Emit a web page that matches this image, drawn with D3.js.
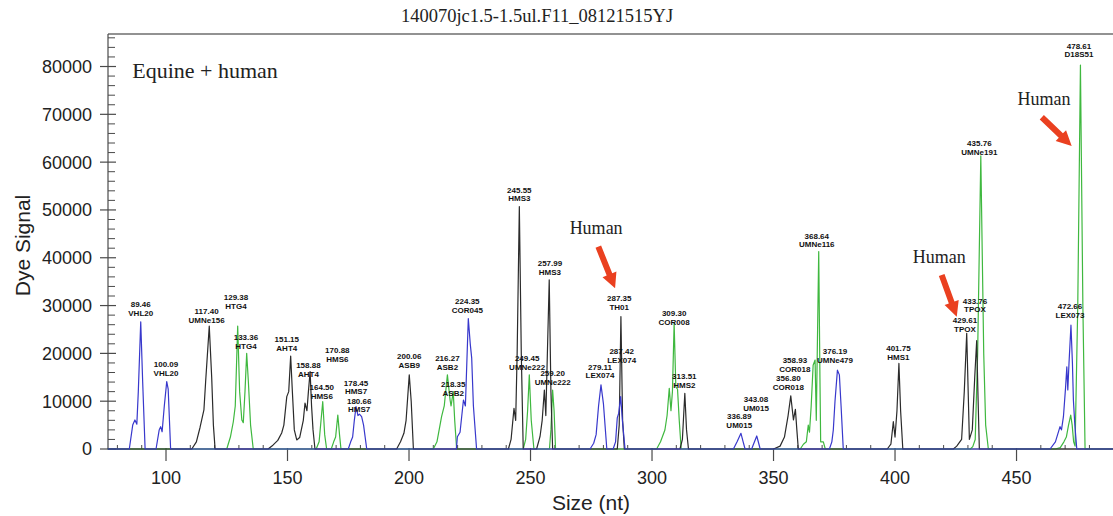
<!DOCTYPE html>
<html>
<head>
<meta charset="utf-8">
<script src="https://cdn.jsdelivr.net/npm/d3@7"></script>
<style>
  body { margin: 0; background: #fff; }
  svg { display: block; }
</style>
</head>
<body>
<svg id="chart"></svg>
<script>
// ---- data ----
const chartTitle = '140070jc1.5-1.5ul.F11_08121515YJ';
const sampleNote = 'Equine + human';
const xLabel = 'Size (nt)';
const yLabel = 'Dye Signal';

const xTicks = [100, 150, 200, 250, 300, 350, 400, 450];
const yTicks = [0, 10000, 20000, 30000, 40000, 50000, 60000, 70000, 80000];

// [size (nt), dye signal]
const blueTrace = [
  [76, 0], [84.9, 0], [86.3, 5000], [87.2, 6070], [88, 5200], [88.6, 12000], [89.6, 26600], [90.4, 14000], [91.4, 0],
  [95.9, 0], [97.2, 4000], [97.8, 4670], [98.4, 3600], [99.3, 9000], [100.3, 14100], [100.9, 12500], [101.9, 0],
  [175, 0], [176, 1500], [176.8, 2500], [177.5, 6000], [178.2, 8850], [179, 7000], [179.6, 7300], [180.5, 6760], [181.3, 5000], [182.6, 0],
  [219.5, 0], [219.9, 2570], [221, 3500], [222.4, 10250], [223.2, 9000], [224.4, 27300], [225.2, 22000], [225.8, 19000], [226.5, 9000], [227.8, 0],
  [274.5, 0], [276, 1200], [277, 3000], [278, 9000], [279, 13400], [280, 9500], [281.4, 0],
  [284, 0], [285, 1500], [285.7, 6500], [286.3, 7500], [287.1, 10950], [287.8, 6000], [288.9, 0],
  [333.5, 0], [335, 1500], [336.6, 3280], [337.5, 1500], [338.3, 0],
  [341, 0], [342, 1300], [343.1, 2720], [343.9, 1200], [344.5, 0],
  [373, 0], [374, 1500], [374.6, 3970], [375.3, 10000], [376.3, 16500], [377.1, 15500], [377.8, 9000], [378.7, 0],
  [463.8, 0], [466, 1500], [467.9, 4670], [468.5, 4000], [469.3, 6760], [470.2, 13000], [470.7, 17200], [471.1, 12340],
  [471.6, 18000], [472.4, 25900], [473, 18000], [473.4, 10250], [474, 5000], [474.8, 0], [490, 0]
];

const blackTrace = [
  [76, 0], [110.6, 0], [112.5, 1500], [114, 4500], [115.6, 8160], [116.3, 14000], [117.8, 25700], [118.8, 15000], [119.5, 5000], [120.2, 0],
  [142, 0], [144, 800], [146, 1800], [147.6, 3350], [148.5, 5000], [149.7, 10950], [150.5, 12000], [151.3, 19450], [152, 12000],
  [152.8, 4000], [153.8, 1900], [155, 2400], [156.5, 6000], [157.2, 9600], [158, 8000], [158.6, 12000], [159.3, 16200], [159.9, 9000], [160.5, 4000], [161.3, 0],
  [194.9, 0], [196.5, 1500], [197.9, 3280], [198.8, 6000], [200.1, 15500], [200.9, 10000], [201.8, 0],
  [240.9, 0], [242, 2000], [243.2, 8500], [243.9, 6000], [244.5, 20000], [245.4, 50700], [246.2, 20000], [247, 0],
  [252.5, 0], [253.9, 2570], [254.8, 6000], [255.7, 12340], [256.3, 7000], [257.7, 35400], [258.4, 12000], [259.1, 0],
  [285.7, 0], [286.5, 5000], [287.2, 27700], [287.9, 6000], [288.6, 0],
  [311.5, 0], [312.5, 2000], [313.5, 11650], [314.2, 4000], [315, 0],
  [350, 0], [352.7, 600], [354.5, 2500], [356, 7000], [357.1, 11100], [358.2, 6070], [359, 8300], [359.6, 4000], [360.2, 0],
  [396.8, 0], [398.3, 1000], [399.3, 5710], [400, 2500], [400.8, 8000], [401.6, 17900], [402.3, 8000], [403.2, 0],
  [424, 0], [425.4, 600], [427.4, 2000], [428.5, 12000], [429.5, 24200], [430.3, 8000], [430.6, 2000], [431.8, 4000],
  [432.8, 15000], [433.6, 22660], [434.2, 10000], [434.7, 0], [490, 0]
];

const greenTrace = [
  [76, 0], [125, 0], [126.5, 2500], [127.7, 5700], [128.5, 9000], [129.5, 25700], [130.3, 12000], [131.2, 6070], [131.8, 5500],
  [132.5, 12000], [133.2, 20000], [133.9, 14000], [134.8, 5000], [135.9, 0],
  [161.8, 0], [163, 1500], [163.8, 6000], [164.5, 9900], [165.3, 3000], [166.1, 0],
  [168, 0], [169, 1500], [169.8, 2500], [170.7, 7100], [171.4, 3000], [172, 0],
  [210, 0], [211.5, 1500], [213.4, 6760], [214.5, 9000], [215.8, 15500], [216.9, 10250], [217.3, 9000], [218.2, 12000], [218.8, 6000], [219.6, 0],
  [247, 0], [248, 2000], [248.8, 8000], [249.5, 15500], [250.3, 6000], [251.4, 0],
  [257.8, 0], [258.4, 4000], [259.1, 12340], [259.7, 8000], [260.3, 0],
  [301.9, 0], [303.5, 1500], [305.3, 3970], [306.2, 7000], [307.1, 12700], [307.8, 8000], [308.4, 12000], [309.1, 26300],
  [309.8, 13000], [310.5, 12500], [311.2, 6000], [312, 0],
  [361, 0], [362.3, 1000], [363.5, 1500], [364.3, 5020], [364.8, 3500], [365.5, 9000], [366.3, 17500], [367.1, 18600],
  [367.6, 6000], [368.6, 41300], [369.1, 15000], [369.4, 1500], [370.5, 1500], [371.3, 0],
  [431, 0], [432, 500], [433, 2000], [434, 20000], [435.3, 61300], [436.5, 20000], [437.3, 5000], [438.4, 0],
  [466, 0], [468, 300], [469.5, 1500], [470.5, 2500], [471.4, 5000], [472.3, 7100], [472.9, 5000], [473.5, 1500], [474.1, 600],
  [475.2, 30000], [476.3, 80300], [477.3, 30000], [478.2, 0], [490, 0]
];

// peak call labels: size, marker name, and where the label sits [nt, signal]
const peakSizes = ['89.46', '100.09', '117.40', '129.38', '133.36', '151.15', '158.88', '170.88', '164.50', '178.45', '180.66',
  '200.06', '216.27', '218.35', '224.35', '245.55', '257.99', '249.45', '259.20', '279.11', '287.42', '287.35', '309.30',
  '313.51', '336.89', '343.08', '358.93', '356.80', '368.64', '376.19', '401.75', '429.61', '433.76', '435.76', '472.66', '478.61'];
const peakNames = ['VHL20', 'VHL20', 'UMNe156', 'HTG4', 'HTG4', 'AHT4', 'AHT4', 'HMS6', 'HMS6', 'HMS7', 'HMS7',
  'ASB9', 'ASB2', 'ASB2', 'COR045', 'HMS3', 'HMS3', 'UMNe222', 'UMNe222', 'LEX074', 'LEX074', 'TH01', 'COR008',
  'HMS2', 'UM015', 'UM015', 'COR018', 'COR018', 'UMNe116', 'UMNe479', 'HMS1', 'TPOX', 'TPOX', 'UMNe191', 'LEX073', 'D18S51'];
const peakLabelAt = [[89.6, 27900], [100.0, 15330], [116.7, 26360], [128.8, 29350], [132.9, 20920], [149.7, 20500], [158.6, 15060],
  [170.5, 18200], [164.1, 10520], [178.2, 11500], [179.5, 7700], [200.1, 16950], [215.8, 16590], [218.2, 11150], [224.0, 28450],
  [245.4, 51820], [258.0, 36460], [248.6, 16590], [259.1, 13450], [278.6, 14850], [287.5, 17990], [286.5, 29140], [309.1, 25940],
  [313.3, 12760], [335.9, 4450], [342.8, 7950], [358.8, 16110], [356.1, 12410], [367.8, 42200], [375.3, 17990], [401.4, 18680],
  [428.8, 24480], [432.9, 28600], [434.7, 61570], [472.0, 27410], [475.7, 81950]];

// "Human" call-outs: text baseline, arrow tail, arrow tip [nt, signal]
const humanText = [[277.0, 44920], [418.2, 38970], [461.3, 71970]];
const arrowFrom = [[277.9, 42320], [419.2, 36400], [460.4, 69390]];
const arrowTo = [[284.8, 33620], [425.4, 27680], [472.7, 63390]];
const noteAt = [86.1, 77620];

class Electropherogram {

  constructor(_config) {
    this.config = {
      parentElement: _config.parentElement,
      containerWidth: 1113,
      containerHeight: 516,
      margin: {top: 34, right: 0, bottom: 67, left: 108}
    };
    this.initVis();
  }

  initVis() {
    let vis = this;
    const m = vis.config.margin;
    vis.width = vis.config.containerWidth - m.left - m.right;
    vis.height = vis.config.containerHeight - m.top - m.bottom;

    vis.svg = d3.select(vis.config.parentElement)
        .attr('width', vis.config.containerWidth)
        .attr('height', vis.config.containerHeight);

    vis.chart = vis.svg.append('g')
        .attr('transform', `translate(${m.left},${m.top})`);

    vis.xScale = d3.scaleLinear().domain([76.13, 489.7]).range([0, vis.width]);
    vis.yScale = d3.scaleLinear().domain([0, 86800]).range([vis.height, 0]);

    vis.renderVis();
  }

  renderVis() {
    let vis = this;
    const x = vis.xScale, y = vis.yScale;
    const axisColor = '#4a4a4a';
    const sans = 'Arial, "Liberation Sans", Helvetica, sans-serif';
    const serif = '"Times New Roman", "Liberation Serif", Times, serif';

    // title
    vis.svg.append('text')
        .attr('x', 537).attr('y', 22)
        .attr('text-anchor', 'middle')
        .style('font-family', serif).style('font-size', '18.5px').attr('fill', '#222')
        .text(chartTitle);

    // top frame line
    vis.chart.append('line')
        .attr('x1', 0).attr('x2', vis.width).attr('y1', 0).attr('y2', 0)
        .attr('stroke', '#6e6e6e').attr('stroke-width', 1.5);

    // y axis: majors cross the line, minors every 2000 point inward
    const yAxis = vis.chart.append('g').attr('class', 'y-axis');
    yAxis.append('line')
        .attr('x1', 0).attr('x2', 0).attr('y1', 0).attr('y2', vis.height)
        .attr('stroke', axisColor).attr('stroke-width', 1.2);
    const yMinor = d3.range(2000, 86800, 2000).filter(d => d % 10000 !== 0);
    yAxis.selectAll('.minor').data(yMinor).join('line')
        .attr('class', 'minor')
        .attr('x1', 0).attr('x2', 7)
        .attr('y1', d => y(d)).attr('y2', d => y(d))
        .attr('stroke', axisColor).attr('stroke-width', 1);
    yAxis.selectAll('.major').data(yTicks).join('line')
        .attr('class', 'major')
        .attr('x1', -8).attr('x2', 8)
        .attr('y1', d => y(d)).attr('y2', d => y(d))
        .attr('stroke', axisColor).attr('stroke-width', 1.2);
    yAxis.selectAll('.tick-label').data(yTicks).join('text')
        .attr('class', 'tick-label')
        .attr('x', -16).attr('y', d => y(d))
        .attr('dy', '0.36em')
        .attr('text-anchor', 'end')
        .style('font-family', sans).style('font-size', '18px').attr('fill', '#222')
        .text(d => d);

    vis.svg.append('text')
        .attr('transform', `translate(30,${vis.config.margin.top + vis.height / 2 + 4}) rotate(-90)`)
        .attr('text-anchor', 'middle')
        .style('font-family', sans).style('font-size', '21px').attr('fill', '#222')
        .text(yLabel);

    // x axis: majors point down, minors every 10 nt point up
    const xAxis = vis.chart.append('g').attr('transform', `translate(0,${vis.height})`);
    xAxis.append('line')
        .attr('x1', 0).attr('x2', vis.width)
        .attr('stroke', axisColor).attr('stroke-width', 1.2);
    const xMinor = d3.range(80, 490, 10).filter(d => d % 50 !== 0);
    xAxis.selectAll('.minor').data(xMinor).join('line')
        .attr('class', 'minor')
        .attr('x1', d => x(d)).attr('x2', d => x(d))
        .attr('y1', 0).attr('y2', -4)
        .attr('stroke', axisColor).attr('stroke-width', 1);
    xAxis.selectAll('.major').data(xTicks).join('line')
        .attr('class', 'major')
        .attr('x1', d => x(d)).attr('x2', d => x(d))
        .attr('y1', -1).attr('y2', 12)
        .attr('stroke', axisColor).attr('stroke-width', 1.2);
    xAxis.selectAll('.tick-label').data(xTicks).join('text')
        .attr('class', 'tick-label')
        .attr('x', d => x(d)).attr('y', 35)
        .attr('text-anchor', 'middle')
        .style('font-family', sans).style('font-size', '18px').attr('fill', '#222')
        .text(d => d);

    vis.svg.append('text')
        .attr('x', 591).attr('y', 510)
        .attr('text-anchor', 'middle')
        .style('font-family', sans).style('font-size', '21px').attr('fill', '#222')
        .text(xLabel);

    // dye traces
    const line = d3.line().x(d => x(d[0])).y(d => y(d[1]));
    const traces = [
      {data: greenTrace, color: '#3fb83f'},
      {data: blackTrace, color: '#2b2b2b'},
      {data: blueTrace, color: '#3838cc'}
    ];
    vis.chart.selectAll('.trace').data(traces).join('path')
        .attr('class', 'trace')
        .attr('d', d => line(d.data))
        .attr('fill', 'none')
        .attr('stroke', d => d.color)
        .attr('stroke-width', 1.2)
        .attr('stroke-linejoin', 'round');

    // peak labels
    const labels = vis.chart.selectAll('.peak-label').data(peakSizes).join('text')
        .attr('class', 'peak-label')
        .attr('transform', (d, i) => `translate(${x(peakLabelAt[i][0])},${y(peakLabelAt[i][1])})`)
        .attr('text-anchor', 'middle')
        .style('font-family', sans).style('font-size', '8px').style('font-weight', 'bold')
        .attr('fill', '#111');
    labels.append('tspan').attr('x', 0).attr('y', -8.5).text(d => d);
    labels.append('tspan').attr('x', 0).attr('y', 0).text((d, i) => peakNames[i]);

    // sample note
    vis.chart.append('text')
        .attr('x', x(noteAt[0])).attr('y', y(noteAt[1]))
        .style('font-family', serif).style('font-size', '22px').attr('fill', '#222')
        .text(sampleNote);

    // Human call-outs with red arrows
    vis.chart.selectAll('.human').data(humanText).join('text')
        .attr('class', 'human')
        .attr('x', d => x(d[0])).attr('y', d => y(d[1]))
        .attr('text-anchor', 'middle')
        .style('font-family', serif).style('font-size', '18px').attr('fill', '#222')
        .text('Human');

    const arrowPath = (i) => {
      const x0 = x(arrowFrom[i][0]), y0 = y(arrowFrom[i][1]);
      const x1 = x(arrowTo[i][0]), y1 = y(arrowTo[i][1]);
      const len = Math.hypot(x1 - x0, y1 - y0);
      const ux = (x1 - x0) / len, uy = (y1 - y0) / len;
      const nx = -uy, ny = ux;
      const head = 15, hw = 7.5, sw = 3;
      const bx = x1 - ux * head, by = y1 - uy * head;
      const pts = [
        [x0 + nx * sw, y0 + ny * sw], [bx + nx * sw, by + ny * sw], [bx + nx * hw, by + ny * hw],
        [x1, y1],
        [bx - nx * hw, by - ny * hw], [bx - nx * sw, by - ny * sw], [x0 - nx * sw, y0 - ny * sw]
      ];
      return 'M' + pts.map(p => p.join(',')).join('L') + 'Z';
    };
    vis.chart.selectAll('.arrow').data(arrowFrom).join('path')
        .attr('class', 'arrow')
        .attr('d', (d, i) => arrowPath(i))
        .attr('fill', '#ea4020');
  }
}

new Electropherogram({parentElement: '#chart'});
</script>
</body>
</html>
